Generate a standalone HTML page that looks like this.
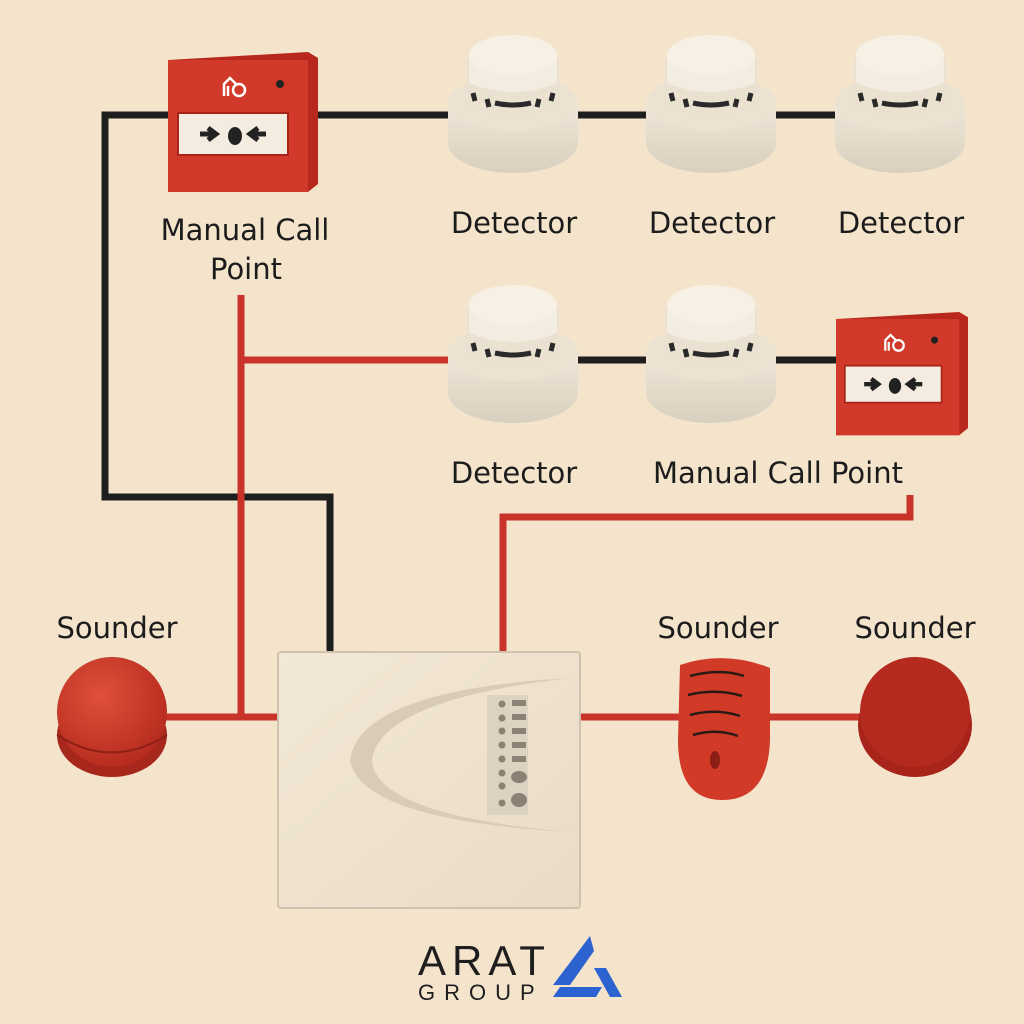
<!DOCTYPE html>
<html><head><style>
html,body{margin:0;padding:0;background:#f4e4cc;}
svg{display:block}
text{font-family:"DejaVu Sans","Liberation Sans",sans-serif;fill:#1c1c1c}
</style></head><body>
<svg width="1024" height="1024" viewBox="0 0 1024 1024" xmlns="http://www.w3.org/2000/svg">
<defs>
<radialGradient id="red1" cx="40%" cy="35%" r="70%"><stop offset="0" stop-color="#e0503a"/><stop offset="1" stop-color="#b52a1e"/></radialGradient>
<linearGradient id="det" x1="0" y1="0" x2="0" y2="1"><stop offset="0" stop-color="#efe7d8"/><stop offset="1" stop-color="#d9cfbe"/></linearGradient>
<linearGradient id="pan" x1="0" y1="0" x2="1" y2="1"><stop offset="0" stop-color="#f3e8d6"/><stop offset="1" stop-color="#e9dcc6"/></linearGradient>
<g id="detector">
 <path d="M-65 10 L-65 50 A65 30 0 0 0 65 50 L65 10 Z" fill="url(#det)"/>
 <ellipse cx="0" cy="10" rx="65" ry="28" fill="#ebe2d2"/>
 <path d="M-46 -35 L-46 12 Q0 32 46 12 L46 -35 Z" fill="#eae1d0"/>
 <path d="M-40 0 L-38 8 M-26 6 L-24 14 M26 6 L24 14 M40 0 L38 8" stroke="#2a2a2a" stroke-width="5"/>
 <path d="M-18 10 Q0 14 18 10" stroke="#2a2a2a" stroke-width="5" fill="none"/>
 <path d="M-44 -38 L-44 -10 Q0 8 44 -10 L44 -38 Z" fill="#f3ece0"/>
 <ellipse cx="0" cy="-38" rx="44" ry="20" fill="#f6f0e5"/>
</g>
<g id="mcp">
 <path d="M0 8 L140 0 L150 6 L150 132 L140 140 L0 140 Z" fill="#b8281c"/>
 <rect x="0" y="8" width="140" height="132" fill="#d13a2a"/>
 <rect x="10" y="61" width="110" height="42" fill="#f4ece0" stroke="#a82418" stroke-width="2"/>
 <path d="M32 82 h14 M40 76 l8 6 -8 6" stroke="#222" stroke-width="5" fill="none"/>
 <path d="M98 82 h-14 M90 76 l-8 6 8 6" stroke="#222" stroke-width="5" fill="none"/>
 <ellipse cx="67" cy="84" rx="7" ry="9" fill="#222"/>
 <path d="M56 44 V32 L62 26 L68 32 M60 44 V34" stroke="#fff" stroke-width="2.5" fill="none"/>
 <circle cx="71" cy="38" r="6" fill="none" stroke="#fff" stroke-width="2.5"/>
 <circle cx="112" cy="32" r="4" fill="#222"/>
</g>
</defs>

<path d="M168 115 H105 V497 H330 V652" stroke="#1e1e1e" stroke-width="7" fill="none"/>
<path d="M318 115 H900" stroke="#1e1e1e" stroke-width="7" fill="none"/>
<path d="M513 360 H836" stroke="#1e1e1e" stroke-width="7" fill="none"/>
<path d="M241 295 V717" stroke="#c8332a" stroke-width="7" fill="none"/>
<path d="M241 360 H450" stroke="#c8332a" stroke-width="7" fill="none"/>
<path d="M910 495 V517 H503 V652" stroke="#c8332a" stroke-width="7" fill="none"/>
<path d="M165 717 H278 M580 717 H860" stroke="#c8332a" stroke-width="7" fill="none"/>

<use href="#mcp" x="168" y="52"/>
<g transform="translate(836 312) scale(0.88)"><use href="#mcp"/></g>

<use href="#detector" x="513" y="93"/>
<use href="#detector" x="711" y="93"/>
<use href="#detector" x="900" y="93"/>
<use href="#detector" x="513" y="343"/>
<use href="#detector" x="711" y="343"/>

<g font-size="29" text-anchor="middle">
<text x="245" y="240">Manual Call</text>
<text x="246" y="279">Point</text>
<text x="514" y="233">Detector</text>
<text x="712" y="233">Detector</text>
<text x="901" y="233">Detector</text>
<text x="514" y="483">Detector</text>
<text x="778" y="483">Manual Call Point</text>
<text x="117" y="638">Sounder</text>
<text x="718" y="638">Sounder</text>
<text x="915" y="638">Sounder</text>
</g>

<rect x="278" y="652" width="302" height="256" rx="3" fill="url(#pan)" stroke="#cfc3ad" stroke-width="2"/>
<path d="M570 678 Q360 690 350 760 Q360 820 570 832 Q375 815 372 760 Q380 700 570 678Z" fill="#d8ccb6"/>
<rect x="487" y="695" width="41" height="120" fill="#ddd2bf"/>
<g fill="#8a8274">
<circle cx="502" cy="704" r="3.5"/><circle cx="502" cy="718" r="3.5"/><circle cx="502" cy="731" r="3.5"/><circle cx="502" cy="745" r="3.5"/><circle cx="502" cy="759" r="3.5"/><circle cx="502" cy="773" r="3.5"/><circle cx="502" cy="786" r="3.5"/><circle cx="502" cy="803" r="3.5"/>
<rect x="512" y="700" width="14" height="6"/><rect x="512" y="714" width="14" height="6"/><rect x="512" y="728" width="14" height="6"/><rect x="512" y="742" width="14" height="6"/><rect x="512" y="756" width="14" height="6"/>
<ellipse cx="519" cy="777" rx="8" ry="6"/><ellipse cx="519" cy="800" rx="8" ry="7"/>
</g>

<ellipse cx="112" cy="735" rx="55" ry="42" fill="#a8271c"/>
<ellipse cx="112" cy="712" rx="55" ry="55" fill="url(#red1)"/>
<path d="M57 735 Q112 770 167 735" stroke="#8e2016" stroke-width="2" fill="none"/>

<path d="M680 665 Q725 650 770 668 L770 740 Q768 800 722 800 Q678 800 678 740 Z" fill="#d23a28"/>
<path d="M690 676 Q720 668 744 676 M688 695 Q716 688 742 696 M690 715 Q716 708 740 716 M693 735 Q716 728 738 736" stroke="#2a1a14" stroke-width="2.5" fill="none"/>
<ellipse cx="715" cy="760" rx="5" ry="9" fill="#8b1e14"/>

<ellipse cx="915" cy="725" rx="57" ry="52" fill="#a8231a"/>
<ellipse cx="915" cy="712" rx="55" ry="55" fill="#b52a1e"/>

<text x="418" y="975" font-size="42" letter-spacing="6" style="font-family:'Liberation Sans',sans-serif;fill:#1e1e1e">ARAT</text>
<text x="418" y="1000" font-size="22" letter-spacing="9" style="font-family:'Liberation Sans',sans-serif;fill:#1e1e1e">GROUP</text>
<path d="M590 936 L553 985 L570 985 L594 951 Z M594 968 L606 968 L622 997 L610 997 Z M560 987 L602 987 L596 997 L553 997 Z" fill="#2d63d0"/>
</svg>
</body></html>
